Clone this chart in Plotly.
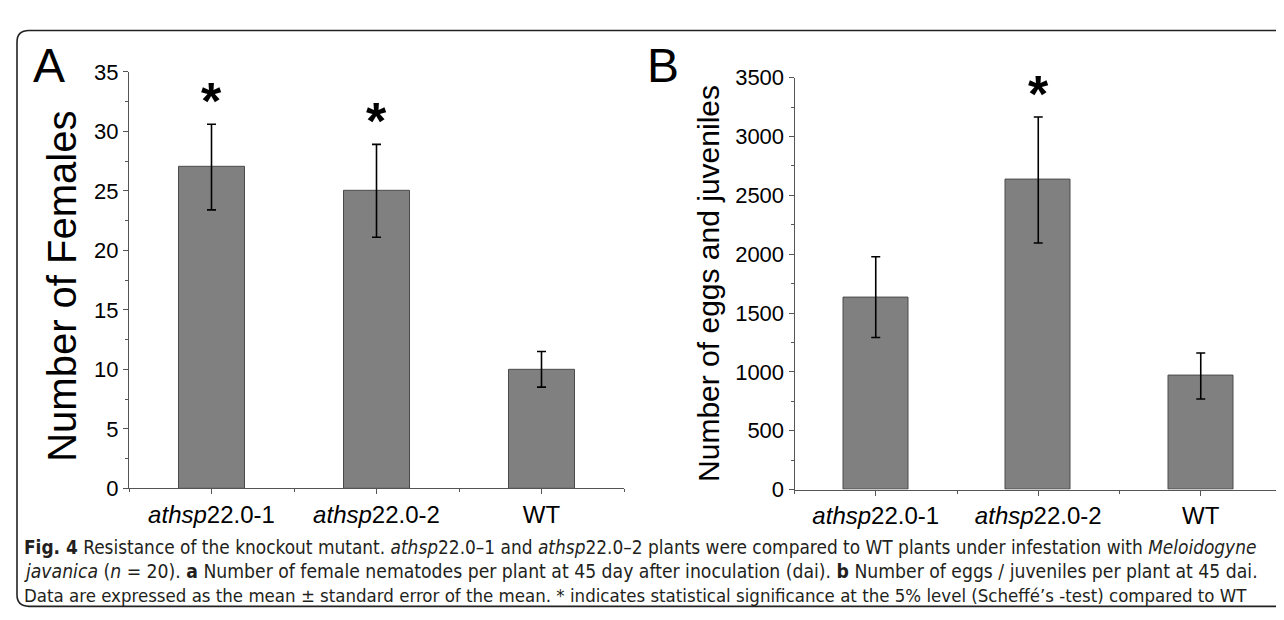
import plotly.graph_objects as go

categories = ["<i>athsp</i>22.0-1", "<i>athsp</i>22.0-2", "WT"]
females_mean = [27, 25, 10]
females_err = [3.6, 3.9, 1.5]
females_sig = [True, True, False]
eggs_mean = [1635, 2630, 965]
eggs_err = [343, 535, 195]
eggs_sig = [False, True, False]

W, H = 1284, 620
def px(x):
    return x / W
def py(y):
    return 1 - y / H

xpos = list(range(len(categories)))
BAR = "#808080"
EDGE = "#4a4a4a"
AX = "#555555"
FONT = "Liberation Sans, Arial, sans-serif"

fig = go.Figure()
fig.add_trace(go.Bar(x=xpos, y=females_mean, width=0.4,
                     marker=dict(color=BAR, line=dict(color=EDGE, width=1)),
                     error_y=dict(type="data", array=females_err, color="black",
                                  thickness=1.6, width=4.5),
                     xaxis="x", yaxis="y", showlegend=False))
fig.add_trace(go.Bar(x=xpos, y=eggs_mean, width=0.4,
                     marker=dict(color=BAR, line=dict(color=EDGE, width=1)),
                     error_y=dict(type="data", array=eggs_err, color="black",
                                  thickness=1.6, width=4.5),
                     xaxis="x2", yaxis="y2", showlegend=False))

def xax(domain, size):
    return dict(domain=domain, range=[-0.5, len(categories) - 0.5],
                tickmode="array", tickvals=xpos, ticktext=categories,
                showline=True, linecolor=AX, linewidth=1,
                ticks="outside", ticklen=5, tickcolor=AX, tickwidth=1,
                minor=dict(tickmode="array",
                           tickvals=[i - 0.5 for i in range(len(categories) + 1)],
                           ticks="outside", ticklen=3, tickcolor=AX),
                showgrid=False, zeroline=False,
                tickfont=dict(family=FONT, size=size, color="black"))

def yax(domain, rng, dt, size):
    return dict(domain=domain, range=rng, dtick=dt, tick0=0,
                showline=True, linecolor=AX, linewidth=1,
                ticks="outside", ticklen=5, tickcolor=AX, tickwidth=1,
                minor=dict(dtick=dt / 2, ticks="outside", ticklen=3, tickcolor=AX),
                showgrid=False, zeroline=False,
                tickfont=dict(family=FONT, size=size, color="black"))

fig.update_layout(
    width=W, height=H, margin=dict(l=0, r=0, t=0, b=0),
    paper_bgcolor="white", plot_bgcolor="white",
    xaxis=xax([px(121), px(616)], 24),
    yaxis=yax([py(488), py(54)], [0, 35], 5, 22),
    xaxis2=dict(xax([px(786.5), px(1274)], 24), anchor="y2"),
    yaxis2=dict(yax([py(489.3), py(60)], [0, 3500], 500, 22), anchor="x2"),
    bargap=0,
)
fig.layout.xaxis.anchor = "y"
fig.layout.yaxis.anchor = "x"

ann = []
# significance stars
for i, (m, e, s) in enumerate(zip(females_mean, females_err, females_sig)):
    if s:
        ann.append(dict(x=i, y=m + e + 0.08 * 35, xref="x", yref="y", text="<b>*</b>",
                        showarrow=False, font=dict(family=FONT, size=52, color="black"),
                        yanchor="middle", yshift=-10))
for i, (m, e, s) in enumerate(zip(eggs_mean, eggs_err, eggs_sig)):
    if s:
        ann.append(dict(x=i, y=m + e + 0.08 * 3500, xref="x2", yref="y2", text="<b>*</b>",
                        showarrow=False, font=dict(family=FONT, size=52, color="black"),
                        yanchor="middle", yshift=-10))

# panel letters
ann.append(dict(x=px(41), y=py(47), xref="paper", yref="paper", text="A", showarrow=False,
                font=dict(family=FONT, size=48, color="black"), xanchor="center", yanchor="middle"))
ann.append(dict(x=px(655), y=py(47), xref="paper", yref="paper", text="B", showarrow=False,
                font=dict(family=FONT, size=48, color="black"), xanchor="center", yanchor="middle"))

# y titles
ann.append(dict(x=px(54), y=py(278), xref="paper", yref="paper", text="Number of Females",
                showarrow=False, textangle=-90,
                font=dict(family=FONT, size=40, color="black"), xanchor="center", yanchor="middle"))
ann.append(dict(x=px(701), y=py(275), xref="paper", yref="paper", text="Number of eggs and juveniles",
                showarrow=False, textangle=-90,
                font=dict(family=FONT, size=30, color="black"), xanchor="center", yanchor="middle"))

# caption
CAP = "DejaVu Sans Condensed, Liberation Sans, sans-serif"
caption = [
    "<b>Fig. 4</b> Resistance of the knockout mutant. <i>athsp</i>22.0–1 and <i>athsp</i>22.0–2 plants were compared to WT plants under infestation with <i>Meloidogyne</i>",
    "<i>javanica</i> (<i>n</i> = 20). <b>a</b> Number of female nematodes per plant at 45 day after inoculation (dai). <b>b</b> Number of eggs / juveniles per plant at 45 dai.",
    "Data are expressed as the mean ± standard error of the mean. * indicates statistical significance at the 5% level (Scheffé’s -test) compared to WT",
]
caption_sizes = [18.9, 19.2, 18.5]
for k, line in enumerate(caption):
    ann.append(dict(x=px(14), y=py(549 + 25.5 * k), xref="paper", yref="paper", text=line,
                    showarrow=False, xanchor="left", yanchor="middle",
                    font=dict(family=CAP, size=caption_sizes[k], color="#231f20")))
fig.update_layout(annotations=ann)

# rounded frame
x0, y0, x1, y1, r = 9, 11, 1310, 611, 12
path = (f"M {px(x0)},{py(y0 + r)} Q {px(x0)},{py(y0)} {px(x0 + r)},{py(y0)} "
        f"L {px(x1)},{py(y0)} L {px(x1)},{py(y1)} L {px(x0 + r)},{py(y1)} "
        f"Q {px(x0)},{py(y1)} {px(x0)},{py(y1 - r)} Z")
fig.add_shape(type="path", xref="paper", yref="paper", path=path,
              line=dict(color="#222222", width=1.6), fillcolor="rgba(0,0,0,0)", layer="above")

fig.write_html("out.html")
